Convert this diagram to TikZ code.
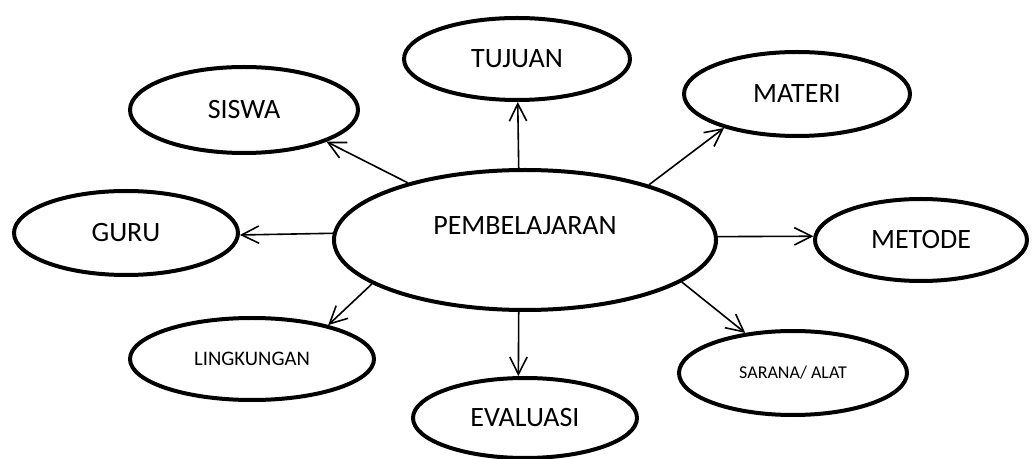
\documentclass[tikz,border=0pt]{standalone}
\usepackage{fontspec}
\setmainfont{Carlito}
\usetikzlibrary{shapes.geometric,arrows.meta}
\tikzset{every picture/.style={line width=0.75pt}}
\tikzset{
	bubble/.style={draw, ellipse, line width=3pt, inner sep=1pt, font=\fontsize{21}{25}\selectfont},
	small bubble/.style={bubble, font=\fontsize{15.5}{18}\selectfont},
	link/.style={line width=1.2pt, -{Straight Barb[length=13pt,width=13pt]}}}

\begin{document}
\begin{tikzpicture}[x=0.75pt,y=0.75pt,yscale=-1,xscale=1]
	\useasboundingbox (0,0) rectangle (1035,459);
	
	%Shape: Ellipse [id:pem] 
	\node [bubble, minimum width=286.5pt, minimum height=105pt] (pem) at (525,240) {};
	% Text Node
	\node [font=\fontsize{21}{25}\selectfont] (pemtext) at (525,226) {PEMBELAJARAN};
	%Shape: Ellipse [id:tujuan] 
	\node [bubble, minimum width=169.5pt, minimum height=61.5pt] (tujuan) at (517,59) {TUJUAN};
	%Shape: Ellipse [id:siswa] 
	\node [bubble, minimum width=171pt, minimum height=64.5pt] (siswa) at (244,110) {SISWA};
	%Shape: Ellipse [id:materi] 
	\node [bubble, minimum width=169.5pt, minimum height=63pt] (materi) at (797,94) {MATERI};
	%Shape: Ellipse [id:guru] 
	\node [bubble, minimum width=168pt, minimum height=63pt] (guru) at (126,233) {GURU};
	%Shape: Ellipse [id:metode] 
	\node [bubble, minimum width=159pt, minimum height=61.5pt] (metode) at (921,240) {METODE};
	%Shape: Ellipse [id:lingkungan] 
	\node [small bubble, minimum width=183pt, minimum height=61.5pt] (lingkungan) at (252,359) {LINGKUNGAN};
	%Shape: Ellipse [id:sarana] 
	\node [small bubble, font=\fontsize{13.5}{16}\selectfont, minimum width=171pt, minimum height=63pt] (sarana) at (793,373) {SARANA/ ALAT};
	%Shape: Ellipse [id:evaluasi] 
	\node [bubble, minimum width=168pt, minimum height=60pt] (evaluasi) at (525,418) {EVALUASI};
	
	%Straight Lines 
	\draw [link] (pem.95.6) -- (tujuan.-89);
	\draw [link] (pem.154.6) -- (siswa.-21.6);
	\draw [link] (pem.24.4) -- (materi.205.3);
	\draw [link] (pem.178.8) -- (guru.-1.5);
	\draw [link] (pem.1.2) -- (metode.178);
	\draw [link] (pem.-164) -- (lingkungan.24.3);
	\draw [link] (pem.-15.7) -- (sarana.140.5);
	\draw [link] (pem.-95.6) -- (evaluasi.99.5);
	
\end{tikzpicture}
\end{document}
